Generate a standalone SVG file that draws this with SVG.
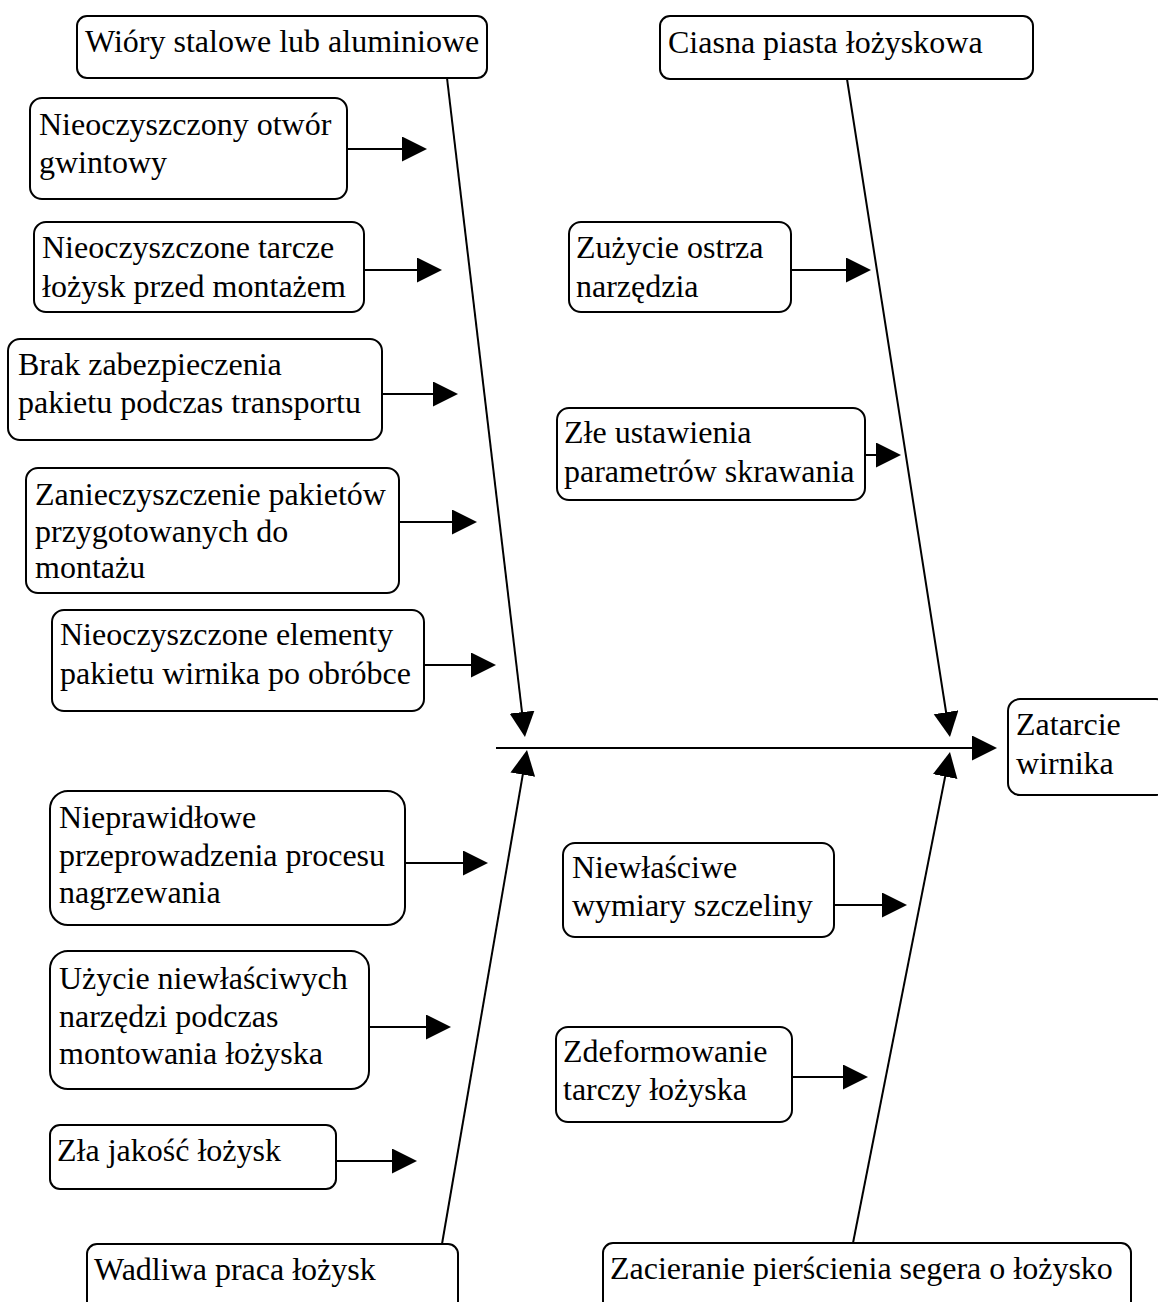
<svg xmlns="http://www.w3.org/2000/svg" width="1158" height="1302" viewBox="0 0 1158 1302">
<style>
.box{fill:#fff;stroke:#000;stroke-width:2}
.t{font-family:"Liberation Serif","Times New Roman",serif;font-size:32px;fill:#000}
.c{stroke:#000;stroke-width:2;fill:none}
</style>
<defs>
<marker id="ah" markerUnits="userSpaceOnUse" markerWidth="26" markerHeight="26" viewBox="0 0 26 26" refX="22" refY="12.5" orient="auto">
<path d="M0,0 L25,12.5 L0,25 z" fill="#000"/>
</marker>
</defs>
<rect width="1158" height="1302" fill="#fff"/>
<g id="connectors">
<line class="c" x1="496" y1="748" x2="994" y2="748" marker-end="url(#ah)"/>
<line class="c" x1="447" y1="78" x2="524.6" y2="734" marker-end="url(#ah)"/>
<line class="c" x1="847" y1="79" x2="949.5" y2="734" marker-end="url(#ah)"/>
<line class="c" x1="442" y1="1244" x2="526.5" y2="753" marker-end="url(#ah)"/>
<line class="c" x1="853" y1="1243" x2="949.4" y2="755" marker-end="url(#ah)"/>
<line class="c" x1="347" y1="149" x2="424" y2="149" marker-end="url(#ah)"/>
<line class="c" x1="364" y1="270" x2="439" y2="270" marker-end="url(#ah)"/>
<line class="c" x1="382" y1="394" x2="455" y2="394" marker-end="url(#ah)"/>
<line class="c" x1="399" y1="522" x2="474" y2="522" marker-end="url(#ah)"/>
<line class="c" x1="424" y1="665" x2="493" y2="665" marker-end="url(#ah)"/>
<line class="c" x1="405" y1="863" x2="485" y2="863" marker-end="url(#ah)"/>
<line class="c" x1="369" y1="1027" x2="448" y2="1027" marker-end="url(#ah)"/>
<line class="c" x1="336" y1="1161" x2="414" y2="1161" marker-end="url(#ah)"/>
<line class="c" x1="791" y1="270" x2="868" y2="270" marker-end="url(#ah)"/>
<line class="c" x1="865" y1="455" x2="898" y2="455" marker-end="url(#ah)"/>
<line class="c" x1="834" y1="905" x2="904" y2="905" marker-end="url(#ah)"/>
<line class="c" x1="792" y1="1077" x2="865" y2="1077" marker-end="url(#ah)"/>
</g>
<g id="n-wiory"><rect class="box" x="77" y="16" width="410" height="62" rx="10"/><text class="t" x="85" y="52">Wióry stalowe lub aluminiowe</text></g>
<g id="n-ciasna"><rect class="box" x="660" y="16" width="373" height="63" rx="10"/><text class="t" x="668" y="53">Ciasna piasta łożyskowa</text></g>
<g id="n-otwor"><rect class="box" x="30" y="98" width="317" height="101" rx="12"/><text class="t" x="39" y="135">Nieoczyszczony otwór</text><text class="t" x="39" y="173">gwintowy</text></g>
<g id="n-tarcze"><rect class="box" x="34" y="222" width="330" height="90" rx="12"/><text class="t" x="42" y="258">Nieoczyszczone tarcze</text><text class="t" x="42" y="297">łożysk przed montażem</text></g>
<g id="n-brak"><rect class="box" x="8" y="339" width="374" height="101" rx="12"/><text class="t" x="18" y="375">Brak zabezpieczenia</text><text class="t" x="18" y="413">pakietu podczas transportu</text></g>
<g id="n-zaniecz"><rect class="box" x="26" y="468" width="373" height="125" rx="12"/><text class="t" x="35" y="505">Zanieczyszczenie pakietów</text><text class="t" x="35" y="542">przygotowanych do</text><text class="t" x="35" y="578">montażu</text></g>
<g id="n-elementy"><rect class="box" x="52" y="610" width="372" height="101" rx="12"/><text class="t" x="60" y="645">Nieoczyszczone elementy</text><text class="t" x="60" y="684">pakietu wirnika po obróbce</text></g>
<g id="n-zuzycie"><rect class="box" x="569" y="222" width="222" height="90" rx="12"/><text class="t" x="576" y="258">Zużycie ostrza</text><text class="t" x="576" y="297">narzędzia</text></g>
<g id="n-zle"><rect class="box" x="557" y="408" width="308" height="92" rx="12"/><text class="t" x="564" y="443">Złe ustawienia</text><text class="t" x="564" y="482">parametrów skrawania</text></g>
<g id="n-zatarcie"><rect class="box" x="1008" y="699" width="160" height="96" rx="12"/><text class="t" x="1016" y="735">Zatarcie</text><text class="t" x="1016" y="774">wirnika</text></g>
<g id="n-nagrzew"><rect class="box" x="50" y="791" width="355" height="134" rx="18"/><text class="t" x="59" y="828">Nieprawidłowe</text><text class="t" x="59" y="866">przeprowadzenia procesu</text><text class="t" x="59" y="903">nagrzewania</text></g>
<g id="n-narzedzi"><rect class="box" x="50" y="951" width="319" height="138" rx="18"/><text class="t" x="59" y="989">Użycie niewłaściwych</text><text class="t" x="59" y="1027">narzędzi podczas</text><text class="t" x="59" y="1064">montowania łożyska</text></g>
<g id="n-jakosc"><rect class="box" x="50" y="1125" width="286" height="64" rx="10"/><text class="t" x="57" y="1161">Zła jakość łożysk</text></g>
<g id="n-wadliwa"><rect class="box" x="87" y="1244" width="371" height="70" rx="10"/><text class="t" x="94" y="1280">Wadliwa praca łożysk</text></g>
<g id="n-szczeliny"><rect class="box" x="563" y="843" width="271" height="94" rx="12"/><text class="t" x="572" y="878">Niewłaściwe</text><text class="t" x="572" y="916">wymiary szczeliny</text></g>
<g id="n-zdeform"><rect class="box" x="556" y="1027" width="236" height="95" rx="12"/><text class="t" x="563" y="1062">Zdeformowanie</text><text class="t" x="563" y="1100">tarczy łożyska</text></g>
<g id="n-zacieranie"><rect class="box" x="603" y="1243" width="528" height="70" rx="10"/><text class="t" x="610" y="1279">Zacieranie pierścienia segera o łożysko</text></g>
</svg>
